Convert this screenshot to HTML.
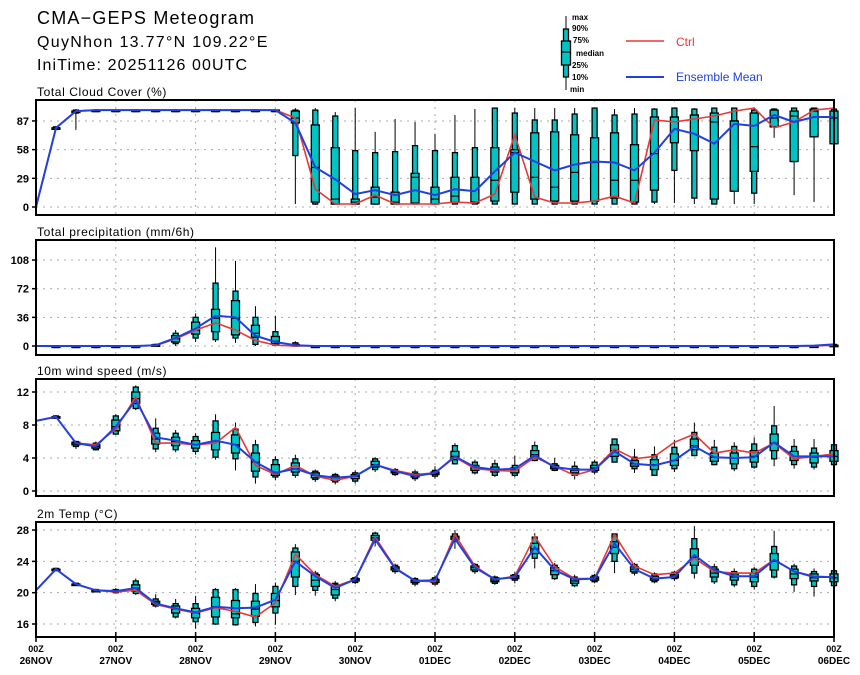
<!DOCTYPE html>
<html><head><meta charset="utf-8"><style>
html,body{margin:0;padding:0;background:#fff;}
svg{display:block;font-family:"Liberation Sans",sans-serif;}
</style></head><body>
<svg id="chart" width="860" height="675" viewBox="0 0 860 675" xmlns="http://www.w3.org/2000/svg">
<text x="37" y="24" font-size="18" letter-spacing="1.2">CMA−GEPS Meteogram</text>
<text x="37" y="47" font-size="16" letter-spacing="1.3">QuyNhon 13.77°N 109.22°E</text>
<text x="37" y="70" font-size="16" letter-spacing="1.1">IniTime: 20251126 00UTC</text>
<g>
<line x1="566" y1="16" x2="566" y2="90" stroke="#000" stroke-width="1"/>
<rect x="563.5" y="29" width="5" height="48" fill="#00c4c4" stroke="#000" stroke-width="1.3"/>
<rect x="561.5" y="41" width="9" height="24" fill="#00c4c4" stroke="#000" stroke-width="1.3"/>
<line x1="561.5" y1="52" x2="570.5" y2="52" stroke="#000" stroke-width="1.2"/>
<g font-size="8" font-weight="bold">
<text x="572" y="20">max</text><text x="572" y="31">90%</text><text x="573" y="43">75%</text>
<text x="576" y="56">median</text><text x="572" y="68">25%</text><text x="572" y="80">10%</text><text x="570" y="92">min</text></g>
<line x1="626" y1="41" x2="664" y2="41" stroke="#e83838" stroke-width="1.5"/>
<text x="676" y="46" font-size="12" fill="#e83838">Ctrl</text>
<line x1="626" y1="77" x2="664" y2="77" stroke="#2040e0" stroke-width="2"/>
<text x="676" y="81" font-size="12" fill="#2040e0">Ensemble Mean</text>
</g>
<g id="plots"></g>
</svg>
<script>
// ---- data (41 steps, 6-hourly from 26NOV 00Z) ----
const dayLabels = ["26NOV","27NOV","28NOV","29NOV","30NOV","01DEC","02DEC","03DEC","04DEC","05DEC","06DEC"];
// Cloud cover
const cloudTicks = [0,29,58,87];
const cloudCtrl = [0,80,97,98,98,98,98,98,98,98,98,98,98,90,18,3,3,12,3,3,3,5,4,13,73,10,4,4,6,11,4,88,86,89,92,97,100,80,86,98,100];
const cloudMean = [0,80,97,98,98,98,98,98,98,98,98,98,98,85,40,28,13,17,12,17,12,18,16,36,55,46,37,43,46,45,37,55,79,74,64,84,82,93,86,91,91];
const cloudMax = [0,82,99,99,99,99,99,99,99,99,99,99,99,100,100,96,100,76,89,86,74,93,99,100,100,100,100,100,100,99,100,100,100,100,100,100,100,100,100,100,100];
const cloudP90 = [0,81,98,98,98,98,98,98,98,98,98,98,98,98,98,92,57,55,56,62,57,55,60,100,95,88,88,94,100,93,94,99,100,99,100,100,98,99,100,100,99];
const cloudP75 = [0,80,97,98,98,98,98,98,98,98,98,98,98,97,83,60,8,20,15,34,20,30,30,60,58,75,76,73,70,75,63,91,91,93,95,87,95,98,97,99,97];
const cloudMed = [0,80,97,98,98,98,98,98,98,98,98,98,98,90,40,8,5,10,5,30,8,11,5,27,55,30,20,35,45,27,27,54,91,93,86,87,61,90,92,97,90];
const cloudP25 = [0,79,96,97,97,97,97,97,97,97,97,97,97,85,5,3,3,3,3,4,3,5,4,6,15,8,6,6,6,9,5,17,65,57,8,16,36,81,46,71,64];
const cloudP10 = [0,79,95,97,97,97,97,97,97,97,97,97,97,52,3,3,3,3,3,3,3,3,3,3,3,3,3,3,3,3,3,5,37,9,3,16,14,81,46,71,64];
const cloudMin = [0,78,78,97,97,97,97,97,97,97,97,97,97,3,2,3,3,3,3,3,3,3,3,3,3,3,3,3,3,3,3,3,4,3,3,3,3,70,12,5,60];
// Precipitation
const precTicks = [0,36,72,108];
const precCtrl = [0,0,0,0,0,0,0.5,9,20,29,20,7,1,0,0,0,0,0,0,0,0,0,0,0,0,0,0,0,0,0,0,0,0,0,0,0,0,0,0,0,1];
const precMean = [0,0,0,0,0,0,1,10,22,38,36,13,5,1,0,0,0,0,0,0,0,0,0,0,0,0,0,0,0,0,0,0,0,0,0,0,0,0,0,0.5,2];
const precMax = [0,0,0,0,0,0,3,20,41,124,107,50,38,6,0,0,0,0,0,0,0,0,0,0,0,0,0,0,0,0,0,0,0,0,0,0,0,0,0,1,3];
const precP90 = [0,0,0,0,0,0,2,16,36,79,69,36,18,4,0,0,0,0,0,0,0,0,0,0,0,0,0,0,0,0,0,0,0,0,0,0,0,0,0,0.5,2];
const precP75 = [0,0,0,0,0,0,1.5,13,30,46,57,26,12,2,0,0,0,0,0,0,0,0,0,0,0,0,0,0,0,0,0,0,0,0,0,0,0,0,0,0,1];
const precMed = [0,0,0,0,0,0,1,9,20,35,35,16,6,1,0,0,0,0,0,0,0,0,0,0,0,0,0,0,0,0,0,0,0,0,0,0,0,0,0,0,0];
const precP25 = [0,0,0,0,0,0,0.5,5,15,18,14,11,3,0,0,0,0,0,0,0,0,0,0,0,0,0,0,0,0,0,0,0,0,0,0,0,0,0,0,0,0];
const precP10 = [0,0,0,0,0,0,0,3,10,8,10,2,1,0,0,0,0,0,0,0,0,0,0,0,0,0,0,0,0,0,0,0,0,0,0,0,0,0,0,0,0];
const precMin = [0,0,0,0,0,0,0,0,5,5,4,0,0,0,0,0,0,0,0,0,0,0,0,0,0,0,0,0,0,0,0,0,0,0,0,0,0,0,0,0,0];
// 10m wind
const windTicks = [0,4,8,12];
const windCtrl = [8.5,9.0,5.8,5.6,7.5,11.4,5.8,5.8,5.6,5.8,7.7,3.1,2.0,3.1,1.8,1.3,1.8,3.2,2.5,2.0,2.2,4.1,2.7,2.5,2.4,4.1,3.0,1.9,2.6,5.1,3.9,4.2,5.9,6.9,4.6,5.0,4.6,5.8,3.9,4.2,4.5];
const windMean = [8.5,9.0,5.8,5.4,7.8,11.0,6.5,6.1,5.6,6.1,5.6,3.5,2.2,2.7,1.9,1.6,1.8,3.2,2.4,1.8,2.2,4.2,2.9,2.6,2.7,4.3,2.9,2.6,2.6,4.8,3.3,3.1,3.7,5.4,4.1,4.0,4.1,5.9,4.2,4.2,4.2];
const windMax = [8.6,9.2,6.1,6.0,9.3,12.8,8.8,7.4,7.0,9.3,8.3,6.2,4.2,4.4,2.6,2.2,2.5,4.1,2.8,2.6,3.0,5.8,3.8,3.8,4.3,6.0,4.0,3.6,3.8,6.3,5.1,5.4,6.2,8.3,6.2,5.9,6.5,10.3,6.3,6.3,6.6];
const windP90 = [8.5,9.1,6.0,5.8,9.1,12.6,7.6,7.0,6.6,8.5,7.5,5.6,3.8,3.9,2.4,2.0,2.2,3.9,2.6,2.3,2.5,5.5,3.5,3.3,3.1,5.5,3.3,3.0,3.5,6.3,4.1,4.4,5.3,7.1,5.3,5.4,5.7,7.9,5.4,5.2,5.6];
const windP75 = [8.5,9.0,5.9,5.6,8.6,12.0,7.0,6.5,6.1,7.1,6.8,4.6,3.2,3.4,2.2,1.8,2.0,3.6,2.4,2.1,2.3,4.8,3.1,2.9,2.8,4.9,3.1,2.7,3.1,5.6,3.7,3.8,4.5,6.3,4.6,4.6,4.9,6.9,4.8,4.6,4.9];
const windMed = [8.5,9.0,5.8,5.4,7.8,11.2,6.3,6.0,5.6,6.0,5.6,3.5,2.3,2.7,1.9,1.6,1.8,3.2,2.3,1.9,2.1,4.2,2.8,2.6,2.6,4.4,2.9,2.5,2.8,4.9,3.3,3.2,3.7,5.5,4.1,4.0,4.2,5.8,4.2,4.1,4.2];
const windP25 = [8.5,8.9,5.6,5.2,7.3,10.6,5.7,5.5,5.2,5.0,4.6,2.4,1.9,2.3,1.6,1.3,1.5,2.9,2.2,1.7,2.0,3.8,2.5,2.3,2.2,4.0,2.7,2.2,2.5,4.2,3.0,2.6,3.1,5.0,3.6,3.3,3.5,4.9,3.7,3.4,3.6];
const windP10 = [8.5,8.9,5.4,5.0,6.9,10.0,5.1,5.0,4.8,4.1,3.9,1.7,1.7,1.9,1.4,1.1,1.2,2.6,2.0,1.5,1.8,3.3,2.2,1.9,1.9,3.7,2.5,1.9,2.3,3.5,2.7,1.9,2.7,4.3,3.2,2.7,2.9,3.9,3.2,2.9,3.2];
const windMin = [8.4,8.8,5.1,4.9,6.8,9.8,4.7,4.7,4.4,3.8,2.5,0.9,1.3,1.6,1.1,0.8,0.9,2.3,1.8,1.2,1.5,3.2,2.0,1.7,1.7,3.6,2.4,1.4,2.0,3.5,2.2,1.9,2.3,4.2,3.1,2.4,2.7,3.0,2.7,2.6,3.1];
// 2m temperature
const tempTicks = [16,20,24,28];
const tempCtrl = [20.3,23.0,21.1,20.3,20.1,20.3,18.5,17.9,17.4,18.1,17.6,16.9,18.7,24.9,22.3,20.8,21.7,27.1,23.2,21.5,21.4,27.4,23.4,21.7,22.1,27.2,23.3,21.8,21.8,27.4,23.4,22.3,22.5,24.4,22.7,22.5,22.5,24.2,22.7,22.1,22.0];
const tempMean = [20.3,23.0,21.1,20.3,20.2,20.6,18.6,18.0,17.5,18.2,18.0,18.1,19.1,24.0,22.1,20.6,21.7,26.8,23.1,21.5,21.6,26.9,23.2,21.7,22.0,25.8,22.9,21.7,21.8,26.3,23.0,21.8,22.0,24.8,22.9,22.1,22.1,24.2,22.7,22.0,22.0];
const tempMax = [20.5,23.2,21.3,20.5,20.6,21.8,19.8,19.2,19.6,20.6,20.6,21.1,21.3,26.2,22.8,21.5,22.1,27.8,23.7,22.0,22.2,28.0,23.8,22.2,22.6,27.6,23.8,22.3,22.4,27.6,23.8,22.6,22.8,28.5,23.7,23.1,23.3,27.9,23.7,23.1,23.2];
const tempP90 = [20.4,23.1,21.2,20.4,20.4,21.5,19.2,18.6,18.6,20.4,20.4,19.9,20.8,25.7,22.5,21.2,21.9,27.6,23.5,21.8,21.9,27.5,23.6,22.0,22.3,27.1,23.5,22.0,22.2,27.5,23.6,22.4,22.6,26.9,23.3,22.7,23.0,25.9,23.4,22.7,22.8];
const tempP75 = [20.3,23.0,21.1,20.3,20.3,21.0,18.9,18.3,18.0,19.4,19.0,18.9,19.9,25.2,22.3,21.0,21.8,27.3,23.3,21.6,21.7,27.2,23.4,21.9,22.2,26.3,23.2,21.8,22.0,26.5,23.3,22.1,22.3,25.6,23.0,22.4,22.5,25.0,23.0,22.4,22.4];
const tempMed = [20.3,23.0,21.1,20.3,20.2,20.6,18.7,17.9,17.4,18.2,17.3,17.9,19.0,24.0,21.6,20.4,21.7,27.0,23.1,21.5,21.5,27.0,23.2,21.6,22.0,25.6,22.8,21.5,21.8,25.8,23.0,21.8,22.1,24.5,22.5,22.0,22.0,24.0,22.4,21.9,21.9];
const tempP25 = [20.2,22.9,21.0,20.2,20.1,20.2,18.5,17.4,16.8,16.9,16.8,17.0,18.2,22.0,20.8,19.7,21.5,26.7,22.9,21.3,21.3,26.8,22.9,21.4,21.8,25.0,22.3,21.2,21.6,25.0,22.7,21.6,21.9,23.5,22.0,21.6,21.4,22.9,21.8,21.5,21.4];
const tempP10 = [20.2,22.9,21.0,20.2,20.0,19.9,18.3,16.9,16.3,16.0,15.9,16.2,17.4,20.8,20.3,19.3,21.3,26.5,22.7,21.1,21.1,26.6,22.7,21.2,21.6,24.4,21.8,20.9,21.4,24.0,22.5,21.4,21.8,22.5,21.4,21.0,20.8,22.0,21.0,20.8,20.9];
const tempMin = [20.1,22.8,20.9,20.1,19.9,19.7,18.1,16.7,15.4,15.9,15.8,15.7,15.9,19.7,19.6,18.9,21.1,25.9,22.4,20.8,20.9,25.6,22.4,21.0,21.2,23.1,21.6,20.7,21.2,22.5,22.2,21.2,21.5,21.8,21.1,20.7,20.4,21.8,20.1,19.5,20.7];

const NS = "http://www.w3.org/2000/svg";
const root = document.getElementById("plots");
const X0 = 36, X1 = 834, NSTEP = 40;
function xs(i){ return X0 + (X1 - X0) * i / NSTEP; }
function mk(tag, attrs, parent){ const e = document.createElementNS(NS, tag); for (const k in attrs) e.setAttribute(k, attrs[k]); (parent||root).appendChild(e); return e; }

function panel(name, title, top, bot, v0, y0, k, ticks, st){
  const ys = v => y0 - (v - v0) * k;
  const g = mk("g", {});
  
  
  const t = mk("text", {x: 37, y: top - 4, "font-size": 12, "letter-spacing": 0.6}, g);
  t.textContent = title;
  
  
  for (let d = 1; d < 10; d++) {
    const gx = xs(d * 4);
    const l = mk("line", {x1: gx, y1: top, x2: gx, y2: bot, stroke: "#aaa", "stroke-width": 1, "stroke-dasharray": "2,5"}, g);
    
    
  }
  ticks.forEach(v => {
    const yy = ys(v);
    const l = mk("line", {x1: X0, y1: yy, x2: X1, y2: yy, stroke: "#aaa", "stroke-width": 1, "stroke-dasharray": "2,5"}, g);
    
    
    const tk = mk("line", {x1: X0 - 4, y1: yy, x2: X0, y2: yy, stroke: "#000", "stroke-width": 1.5}, g);
    
    
    const tl = mk("text", {x: X0 - 7, y: yy + 4, "font-size": 11, "font-weight": "bold", "text-anchor": "end"}, g);
    tl.textContent = v;
    
    
  });
  for (let i = 1; i <= NSTEP; i++) {
    const cx = xs(i);
    const bg = mk("g", {}, g);
    
    
    mk("line", {x1: cx, y1: ys(st.max[i]), x2: cx, y2: ys(st.min[i]), stroke: "#000", "stroke-width": 1}, bg);
    const h1 = Math.max(ys(st.p10[i]) - ys(st.p90[i]), 1.5);
    mk("rect", {x: cx - 2.5, y: ys(st.p90[i]), width: 5, height: h1, fill: "#00c4c4", stroke: "#000", "stroke-width": 1.3}, bg);
    const h2 = Math.max(ys(st.p25[i]) - ys(st.p75[i]), 1.5);
    mk("rect", {x: cx - 4, y: ys(st.p75[i]), width: 8, height: h2, fill: "#00c4c4", stroke: "#000", "stroke-width": 1.3}, bg);
    mk("line", {x1: cx - 4, y1: ys(st.med[i]), x2: cx + 4, y2: ys(st.med[i]), stroke: "#000", "stroke-width": 1.2}, bg);
  }
  const path = arr => arr.map((v, i) => (i ? "L" : "M") + xs(i).toFixed(1) + "," + ys(v).toFixed(1)).join("");
  const lc = mk("path", {d: path(st.ctrl), fill: "none", stroke: "#e83838", "stroke-width": 1.6}, g);
  
  
  const lm = mk("path", {d: path(st.mean), fill: "none", stroke: "#2040e0", "stroke-width": 2}, g);
  
  
  const fr = mk("rect", {x: X0, y: top, width: X1 - X0, height: bot - top, fill: "none", stroke: "#000", "stroke-width": 2}, g);
  
  
}

panel("cloud", "Total Cloud Cover (%)", 100, 215, 0, 207, 0.989, cloudTicks,
  {ctrl: cloudCtrl, mean: cloudMean, max: cloudMax, p90: cloudP90, p75: cloudP75, med: cloudMed, p25: cloudP25, p10: cloudP10, min: cloudMin});
panel("precip", "Total precipitation (mm/6h)", 240, 355, 0, 346, 0.796, precTicks,
  {ctrl: precCtrl, mean: precMean, max: precMax, p90: precP90, p75: precP75, med: precMed, p25: precP25, p10: precP10, min: precMin});
panel("wind", "10m wind speed (m/s)", 379, 496, 0, 491, 8.25, windTicks,
  {ctrl: windCtrl, mean: windMean, max: windMax, p90: windP90, p75: windP75, med: windMed, p25: windP25, p10: windP10, min: windMin});
panel("temp", "2m Temp (°C)", 522, 637, 16, 624, 7.83, tempTicks,
  {ctrl: tempCtrl, mean: tempMean, max: tempMax, p90: tempP90, p75: tempP75, med: tempMed, p25: tempP25, p10: tempP10, min: tempMin});

dayLabels.forEach((lab, d) => {
  const x = xs(d * 4);
  const tk = mk("line", {x1: x, y1: 632, x2: x, y2: 642, stroke: "#000", "stroke-width": 1.5});
  
  
  const t1 = mk("text", {x: x, y: 652, "font-size": 9, "font-weight": "bold", "text-anchor": "middle"});
  t1.textContent = "00Z";
  
  
  const t2 = mk("text", {x: x, y: 664, "font-size": 10, "font-weight": "bold", "text-anchor": "middle"});
  t2.textContent = lab;
  
  
});
</script>
</body></html>
